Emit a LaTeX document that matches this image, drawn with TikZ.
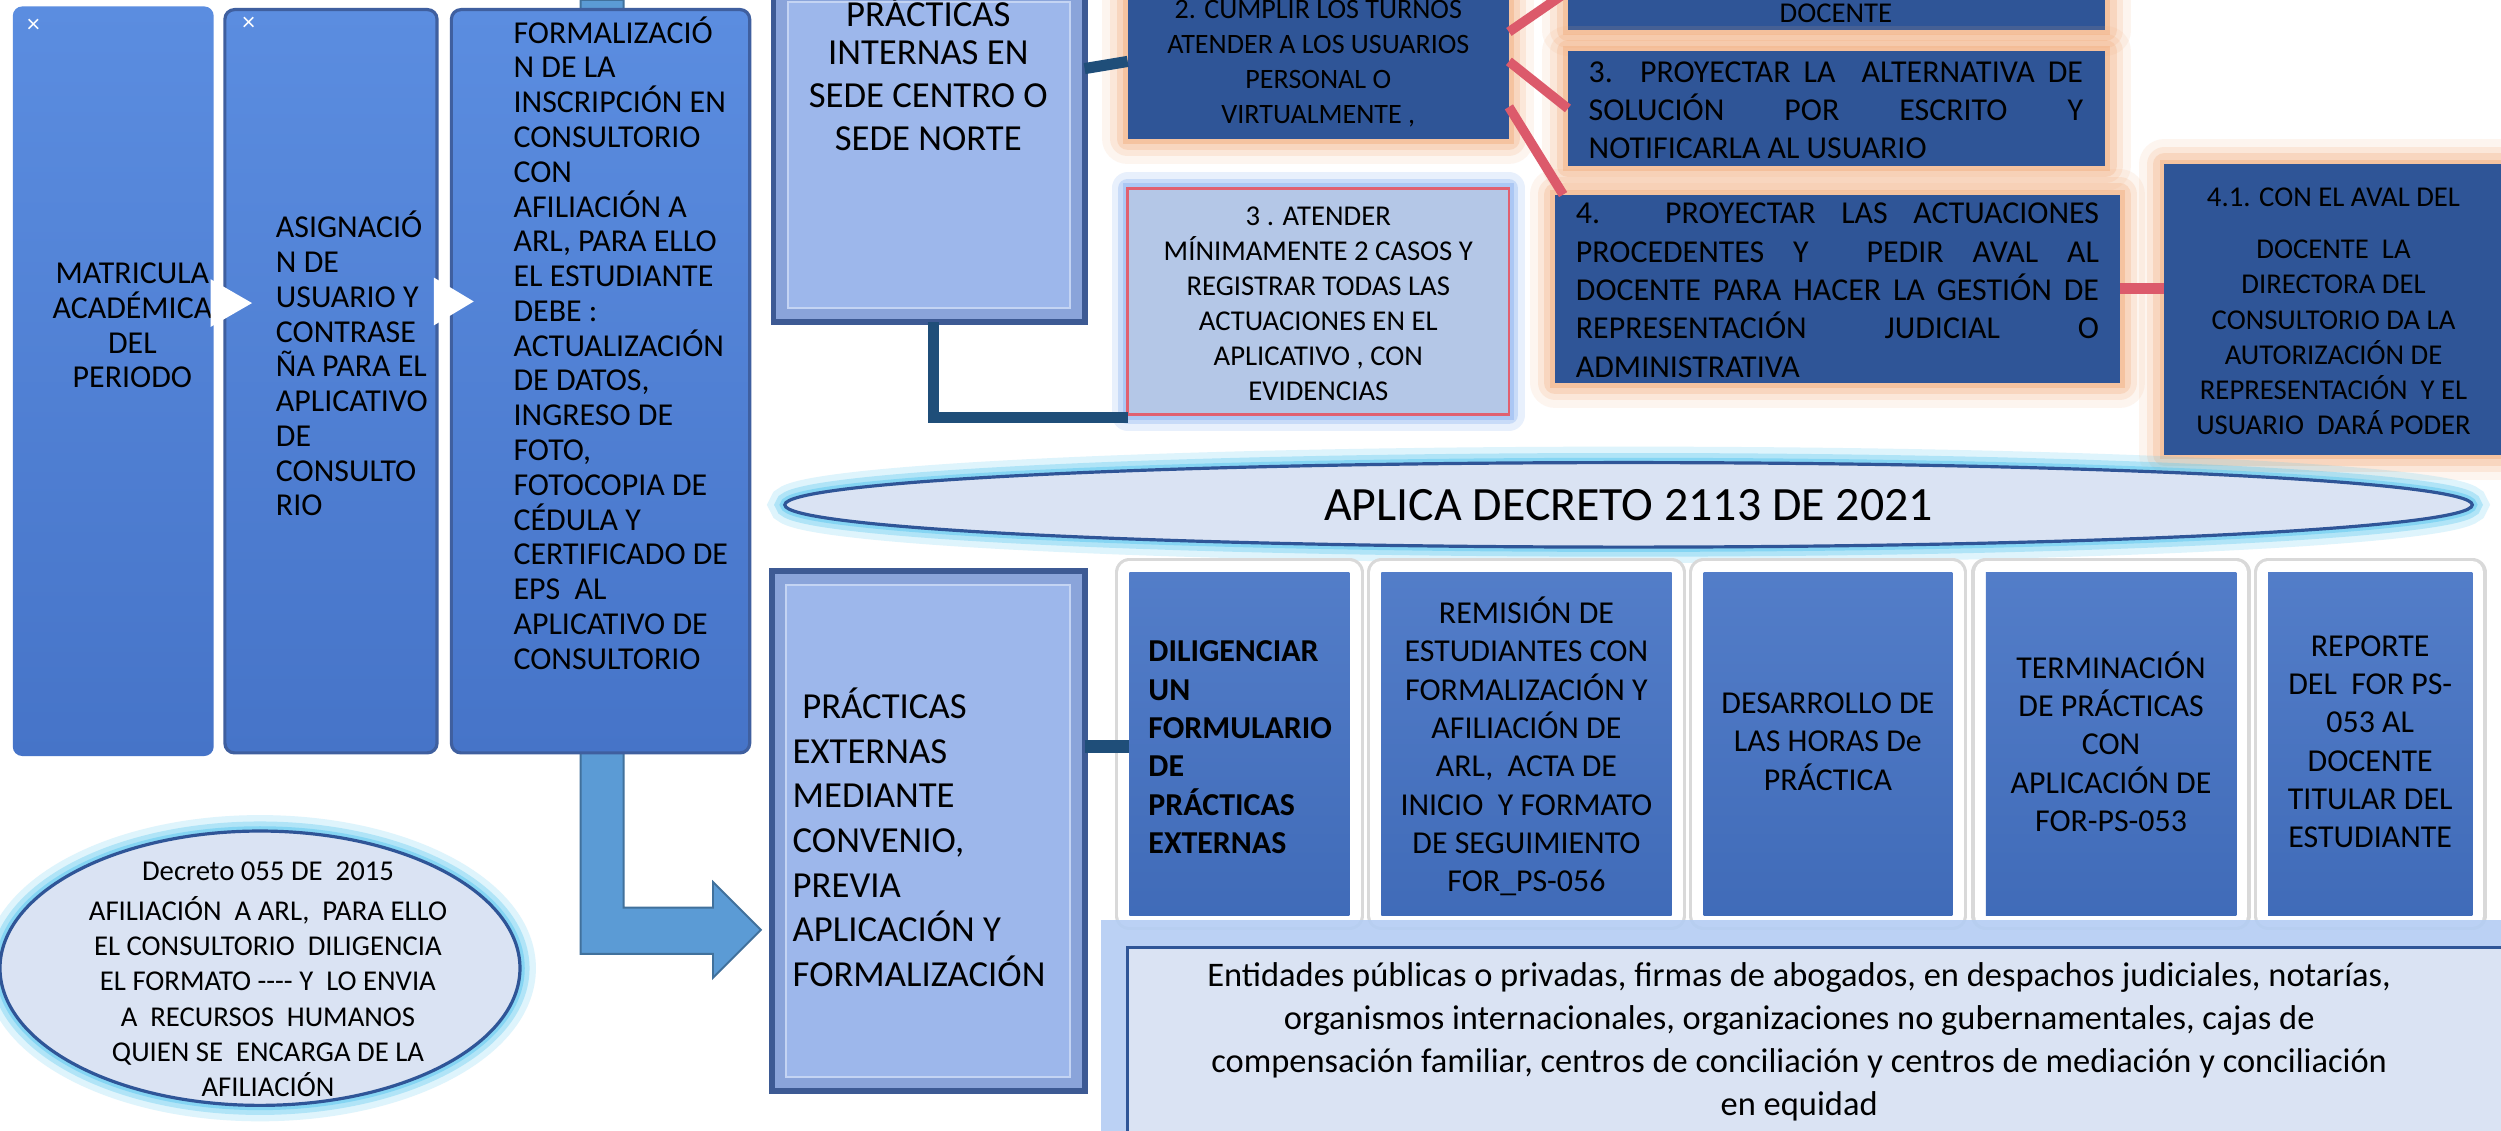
\documentclass[tikz,border=0pt]{standalone}
\usepackage{fontspec}
\setmainfont{Carlito}
\usetikzlibrary{fit,calc,shapes.geometric,backgrounds}

\definecolor{coltop}{HTML}{5B8DE0}
\definecolor{colbot}{HTML}{4674C8}
\definecolor{coledge}{HTML}{3F5F9F}
\definecolor{paleface}{HTML}{9DB7EB}
\definecolor{paleband}{HTML}{8AA4DA}
\definecolor{paleedge}{HTML}{3D5A94}
\definecolor{navybox}{HTML}{2F5597}
\definecolor{orglow}{HTML}{F4B183}
\definecolor{rowblue}{HTML}{4472C4}
\definecolor{linkblue}{HTML}{1F4E79}
\definecolor{linkred}{HTML}{DC5A6B}
\definecolor{ellface}{HTML}{DAE3F3}
\definecolor{elledge}{HTML}{2F5597}
\definecolor{cyanglow}{HTML}{5BC8F0}
\definecolor{casefill}{HTML}{B4C7E7}
\definecolor{caseedge}{HTML}{E06070}
\definecolor{caseglow}{HTML}{8FB5F2}
\definecolor{arrowblue}{HTML}{5B9BD5}
\definecolor{arrowedge}{HTML}{41719C}
\definecolor{entglow}{HTML}{B4CDF3}

\newcommand{\tsize}[2]{\fontsize{#1}{#2}\selectfont}
\newcommand{\jline}[2]{\makebox[#1][s]{#2}}

\tikzset{
  every node/.style={inner sep=0pt, outer sep=0pt},
  colbox/.style={rounded corners=3pt, top color=coltop, bottom color=colbot},
  palebox/.style={fill=paleband, draw=paleedge, line width=1.8pt},
  paleinner/.style={fill=paleface, draw=paleface!60!white, line width=.6pt},
  navycard/.style={fill=navybox,
    preaction={draw=orglow, line width=16pt, opacity=.12, line join=round},
    preaction={draw=orglow, line width=11pt, opacity=.2, line join=round},
    preaction={draw=orglow, line width=7pt, opacity=.3, line join=round},
    preaction={draw=orglow, line width=3pt, opacity=.5}},
  rowcard/.style={top color=rowblue!92!white, bottom color=rowblue!94!black,
    preaction={draw=black!15, line width=9pt, line join=round},
    preaction={draw=white, line width=7pt, line join=round}},
  casecard/.style={fill=casefill, draw=caseedge, line width=.8pt,
    preaction={draw=caseglow, line width=10pt, opacity=.2, line join=round},
    preaction={draw=caseglow, line width=6pt, opacity=.35, line join=round},
    preaction={draw=caseglow, line width=3pt, opacity=.5}},
  entcard/.style={fill=ellface, draw=elledge, line width=1pt,
    preaction={draw=entglow, line width=17pt, opacity=.9}},
  lens/.style={ellipse, fill=ellface, draw=elledge, line width=1pt,
    preaction={draw=cyanglow, line width=10pt, opacity=.2},
    preaction={draw=cyanglow, line width=6pt, opacity=.35},
    preaction={draw=cyanglow, line width=3pt, opacity=.5}},
  bluelink/.style={draw=linkblue, line width=3.5pt},
  redlink/.style={draw=linkred, line width=3pt},
  chevron/.style={fill=white},
  blockarrow/.style={fill=arrowblue, draw=arrowedge, line width=.6pt},
  coltext/.style={font=\tsize{10}{10.9}},
  bigtext/.style={font=\tsize{11.5}{13.5}},
  cardtext/.style={font=\tsize{9}{11}, align=center},
  steptext/.style={font=\tsize{10}{12}, align=center}
}

\begin{document}
\begin{tikzpicture}[x=0.5pt, y=-0.5pt]
\useasboundingbox (0,0) rectangle (1568,709);
\clip (0,0) rectangle (1568,709);

% columna izquierda
\node[colbox, fit={(8,4) (134,474)}] (matricula) {};
\node[colbox, draw=coledge, line width=1pt, fit={(141,6) (274,472)}] (asignacion) {};
\node[colbox, draw=coledge, line width=1pt, fit={(283,6) (470,472)}] (formalizacion) {};

% practicas internas
\node[palebox, fit={(485,-8) (680,202)}] (internas) {};
\node[navycard, fit={(707,-10) (946,87)}] (turnos) {};
\node[casecard, fit={(707,118) (946,260)}] (casos) {};
\node[navycard, fit={(983,-30) (1320,19)}] (docente) {};
\node[navycard, fit={(983,32) (1320,104)}] (alternativa) {};
\node[navycard, fit={(975,122) (1329,240)}] (actuaciones) {};
\node[navycard, fit={(1357,103) (1580,285)}] (aval) {};

% decretos
\node[lens, minimum width=163pt, minimum height=86pt] (decreto) at (163,607) {};
\node[lens, minimum width=529pt, minimum height=26.5pt, font=\tsize{15}{18}] (decreto2113) at (1021,316.5) {APLICA DECRETO 2113 DE 2021};

% practicas externas
\node[palebox, fit={(484,358) (680,684)}] (externas) {};
\node[rowcard, fit={(708,359) (846,574)}] (formulario) {};
\node[rowcard, fit={(866,359) (1048,574)}] (remision) {};
\node[rowcard, fit={(1068,359) (1224,574)}] (horas) {};
\node[rowcard, fit={(1245,359) (1402,574)}] (terminacion) {};
\node[rowcard, fit={(1422,359) (1550,574)}] (reporte) {};
\node[entcard, fit={(707,594) (1580,725)}] (entidades) {};

\foreach \b in {internas,externas}
  \filldraw[paleinner] ($(\b.north west)+(9,9)$) rectangle ($(\b.south east)+(-9,-9)$);

% textos
\node[coltext, align=center] (mattxt) at (83,204) {MATRICULA\\ACADÉMICA\\DEL\\PERIODO};
\node[coltext, align=left, anchor=west] (asigtxt) at (173,228)
  {ASIGNACIÓ\\N DE\\USUARIO Y\\CONTRASE\\ÑA PARA EL\\APLICATIVO\\DE\\CONSULTO\\RIO};
\node[coltext, align=left, anchor=west] (formtxt) at (322,215)
  {FORMALIZACIÓ\\N DE LA\\INSCRIPCIÓN EN\\CONSULTORIO\\CON\\AFILIACIÓN A\\ARL, PARA ELLO\\EL ESTUDIANTE\\DEBE :\\ACTUALIZACIÓN\\DE DATOS,\\INGRESO DE\\FOTO,\\FOTOCOPIA DE\\CÉDULA Y\\CERTIFICADO DE\\EPS~ AL\\APLICATIVO DE\\CONSULTORIO};
\node[text=white, font=\tsize{8}{8}] (markA) at (21,16) {×};
\node[text=white, font=\tsize{8}{8}] (markB) at (156,15) {×};

\node[bigtext, align=center] (internastxt) at (582,46) {PRÁCTICAS\\[-1.5pt]INTERNAS EN\\SEDE CENTRO O\\SEDE NORTE};
\node[cardtext, font=\tsize{8.8}{11}] (turnostxt) at (826.5,40) {2. CUMPLIR LOS TURNOS\\ATENDER A LOS USUARIOS\\PERSONAL O\\VIRTUALMENTE ,};
\node[cardtext] (casostxt) at (826.5,190.5) {3 . ATENDER\\MÍNIMAMENTE 2 CASOS Y\\REGISTRAR TODAS LAS\\ACTUACIONES EN EL\\APLICATIVO , CON\\EVIDENCIAS};
\node[font=\tsize{9}{11}, anchor=base] (docentetxt) at (1151,14) {DOCENTE};
\node[font=\tsize{10}{12}, align=left, anchor=west] (alternativatxt) at (996,69)
  {\jline{155pt}{3. PROYECTAR LA~ ALTERNATIVA DE}\\\jline{155pt}{SOLUCIÓN POR ESCRITO Y}\\NOTIFICARLA AL USUARIO};
\node[font=\tsize{10}{12}, align=left, anchor=west] (actuacionestxt) at (988,182)
  {\jline{164pt}{4. PROYECTAR LAS ACTUACIONES}\\\jline{164pt}{PROCEDENTES Y~ PEDIR AVAL AL}\\\jline{164pt}{DOCENTE PARA HACER LA GESTIÓN DE}\\\jline{164pt}{REPRESENTACIÓN JUDICIAL O}\\ADMINISTRATIVA};
\node[cardtext] (avaltxt) at (1463,195) {4.1. CON EL AVAL DEL\\[5.5pt]DOCENTE~ LA\\DIRECTORA DEL\\CONSULTORIO DA LA\\AUTORIZACIÓN DE\\REPRESENTACIÓN~ Y EL\\USUARIO~ DARÁ PODER};

\node[cardtext] (decretotxt) at (168,614) {Decreto 055 DE~ 2015\\[1.5pt]AFILIACIÓN~ A ARL,~ PARA ELLO\\EL CONSULTORIO~ DILIGENCIA\\EL FORMATO -{}-{}-{}- Y~ LO ENVIA\\A~ RECURSOS~ HUMANOS\\QUIEN SE~ ENCARGA DE LA\\AFILIACIÓN};

\node[bigtext, align=left, anchor=west, font=\tsize{11.5}{14}] (externastxt) at (497,525)
  {\hspace*{3pt}PRÁCTICAS\\EXTERNAS\\MEDIANTE\\CONVENIO,\\PREVIA\\APLICACIÓN Y\\FORMALIZACIÓN};
\node[font=\tsize{10}{12}\bfseries, align=left, anchor=west] (formulariotxt) at (720,468.5)
  {DILIGENCIAR\\UN\\FORMULARIO\\DE\\PRÁCTICAS\\EXTERNAS};
\node[steptext] (remisiontxt) at (957,468) {REMISIÓN DE\\ESTUDIANTES CON\\FORMALIZACIÓN Y\\AFILIACIÓN DE\\ARL,~ ACTA DE\\INICIO~ Y FORMATO\\DE SEGUIMIENTO\\FOR\_PS-056};
\node[steptext] (horastxt) at (1146,465) {DESARROLLO DE\\LAS HORAS De\\PRÁCTICA};
\node[steptext] (terminaciontxt) at (1323.5,465) {TERMINACIÓN\\DE PRÁCTICAS\\CON\\APLICACIÓN DE\\FOR-PS-053};
\node[steptext] (reportetxt) at (1486,465) {REPORTE\\DEL~ FOR PS-\\053 AL\\DOCENTE\\TITULAR DEL\\ESTUDIANTE};
\node[font=\tsize{10.8}{13.5}, align=center] (entidadestxt) at (1128,653)
  {Entidades públicas o privadas, firmas de abogados, en despachos judiciales, notarías,\\organismos internacionales, organizaciones no gubernamentales, cajas de\\compensación familiar, centros de conciliación y centros de mediación y conciliación\\en equidad};

% flechas entre columnas
\fill[chevron] ($(matricula.east |- 0,175)+(-2,0)$) -- ($(matricula.east |- 0,190)+(24,0)$) -- ($(matricula.east |- 0,205)+(-2,0)$) -- cycle;
\fill[chevron] ($(asignacion.east |- 0,174)+(-2,0)$) -- ($(asignacion.east |- 0,189)+(23,0)$) -- ($(asignacion.east |- 0,204)+(-2,0)$) -- cycle;

% conectores
\draw[bluelink] (internas.east |- 0,43) -- (turnos.west);
\draw[bluelink] ($(internas.south)+(3,0)$) |- ($(casos.south west)+(0,2)$);
\draw[bluelink, line width=3.8pt] (externas.east |- 0,468) -- (formulario.west |- 0,468);
\draw[redlink] (turnos.east |- 0,20) -- (docente.west);
\draw[redlink] (turnos.east) -- (alternativa.west);
\draw[redlink] (turnos.east |- 0,67) -- ($(actuaciones.north west)+(5,0)$);
\draw[redlink, line width=3.5pt] (actuaciones.east) -- (aval.west |- actuaciones.east);

\begin{scope}[on background layer]
  \fill[white] (0,0) rectangle (1568,709);
  \filldraw[blockarrow] (364,0) -- (391,0) -- (391,569) -- (447,569) -- (447,553)
    -- (477,583) -- (447,613) -- (447,598) -- (364,598) -- cycle;
\end{scope}
\end{tikzpicture}
\end{document}
